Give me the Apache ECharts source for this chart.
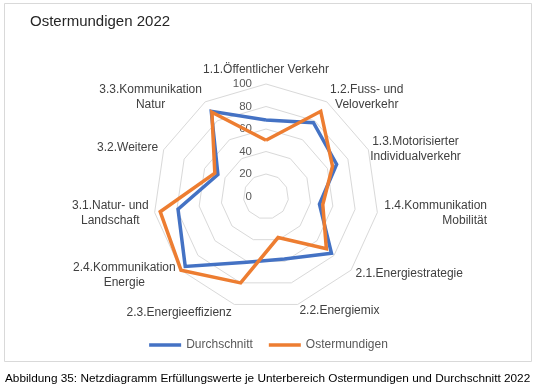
<!DOCTYPE html>
<html>
<head>
<meta charset="utf-8">
<script src="https://cdn.jsdelivr.net/npm/echarts@6/dist/echarts.min.js"></script>
<style>html,body{margin:0;padding:0;background:#fff}#c{width:537px;height:392px}</style>
</head>
<body>
<div id="c"></div>
<script>
const titleText = 'Ostermundigen 2022';
const captionText = 'Abbildung 35: Netzdiagramm Erfüllungswerte je Unterbereich Ostermundigen und Durchschnitt 2022';
const categories = [
  '1.1.Öffentlicher Verkehr',
  '1.2.Fuss- und\nVeloverkehr',
  '1.3.Motorisierter\nIndividualverkehr',
  '1.4.Kommunikation\nMobilität',
  '2.1.Energiestrategie',
  '2.2.Energiemix',
  '2.3.Energieeffizienz',
  '2.4.Kommunikation\nEnergie',
  '3.1.Natur- und\nLandschaft',
  '3.2.Weitere',
  '3.3.Kommunikation\nNatur'
];
const seriesNames = ['Durchschnitt', 'Ostermundigen'];
const durchschnitt = [68, 78, 69, 48, 77, 58, 61, 95, 79, 47, 90];
const ostermundigen = [50, 90, 65, 51, 71, 38, 80, 100, 95, 50, 89];
const valueTicks = [0, 20, 40, 60, 80, 100];

const FONT = '"Liberation Sans", Arial, sans-serif';
const BLUE = '#4472C4';
const ORANGE = '#ED7D31';
// per-indicator label tweaks (layout only), indexed like categories
const nameGaps = [7, 6, 2, 7, 6, 6, 9, 7, 6, 6, 6];
const lineAligns = ['center', 'center', 'center', 'right', 'center', 'center', 'center', 'center', 'center', 'center', 'center'];

// ECharts lays radar axes out counter-clockwise; Excel goes clockwise.
// Visit the categories in reverse (keeping the first on top) so they run clockwise.
const order = [0].concat(categories.map((_, i) => i).slice(1).reverse());

const chart = echarts.init(document.getElementById('c'), null, {renderer: 'canvas'});

const indicator = order.map((i, k) => {
  const ind = {name: categories[i], min: valueTicks[0], max: valueTicks[valueTicks.length - 1], nameGap: nameGaps[i]};
  if (k === 0) {
    ind.axisLabel = {
      show: true, color: '#595959', fontSize: 11.5, fontFamily: FONT, margin: 14,
      showMinLabel: true, showMaxLabel: true
    };
  }
  return ind;
});

const option = {
  backgroundColor: '#fff',
  animation: false,
  graphic: [{
    type: 'rect', z: -10, silent: true,
    shape: {x: 4.5, y: 3.5, width: 527, height: 358},
    style: {fill: '#fff', stroke: '#D9D9D9', lineWidth: 1}
  }],
  title: [{
    text: titleText, left: 30, top: 14, padding: 0,
    textStyle: {fontFamily: FONT, fontSize: 15, fontWeight: 'normal', color: '#262626'}
  }, {
    text: captionText, left: 5, top: 373, padding: 0,
    textStyle: {fontFamily: FONT, fontSize: 11.8, fontWeight: 'normal', color: '#000'}
  }],
  legend: {
    data: seriesNames, left: 'center', top: 334, itemGap: 16,
    itemWidth: 32, itemHeight: 3.5, icon: 'rect',
    textStyle: {fontFamily: FONT, fontSize: 12, color: '#595959'}
  },
  radar: {
    center: [266, 196.5],
    radius: 112.5,
    startAngle: 90,
    splitNumber: valueTicks.length - 1,
    shape: 'polygon',
    indicator: indicator,
    axisName: {
      color: '#404040', fontSize: 12, fontFamily: FONT,
      formatter: function (name, ind) {
        const idx = categories.indexOf(ind && ind.name != null ? ind.name : name);
        const a = lineAligns[idx] || 'center';
        const key = a === 'right' ? 'r' : 'c';
        return String(name).split('\n').map(l => '{' + key + '|' + l + '}').join('\n');
      },
      rich: {
        c: {align: 'center', fontSize: 12, fontFamily: FONT, color: '#404040', lineHeight: 15},
        r: {align: 'right', fontSize: 12, fontFamily: FONT, color: '#404040', lineHeight: 15}
      }
    },
    axisLine: {show: false},
    axisTick: {show: false},
    axisLabel: {show: false},
    splitLine: {lineStyle: {color: '#D9D9D9', width: 1}},
    splitArea: {show: false}
  },
  series: [{
    type: 'radar',
    symbol: 'none',
    data: [{
      name: seriesNames[0], value: order.map(i => durchschnitt[i]),
      itemStyle: {color: BLUE},
      lineStyle: {color: BLUE, width: 3.5, join: 'miter', miterLimit: 4}
    }, {
      name: seriesNames[1], value: order.map(i => ostermundigen[i]),
      itemStyle: {color: ORANGE},
      lineStyle: {color: ORANGE, width: 3.5, join: 'miter', miterLimit: 4}
    }]
  }]
};
chart.setOption(option);
</script>
</body>
</html>
